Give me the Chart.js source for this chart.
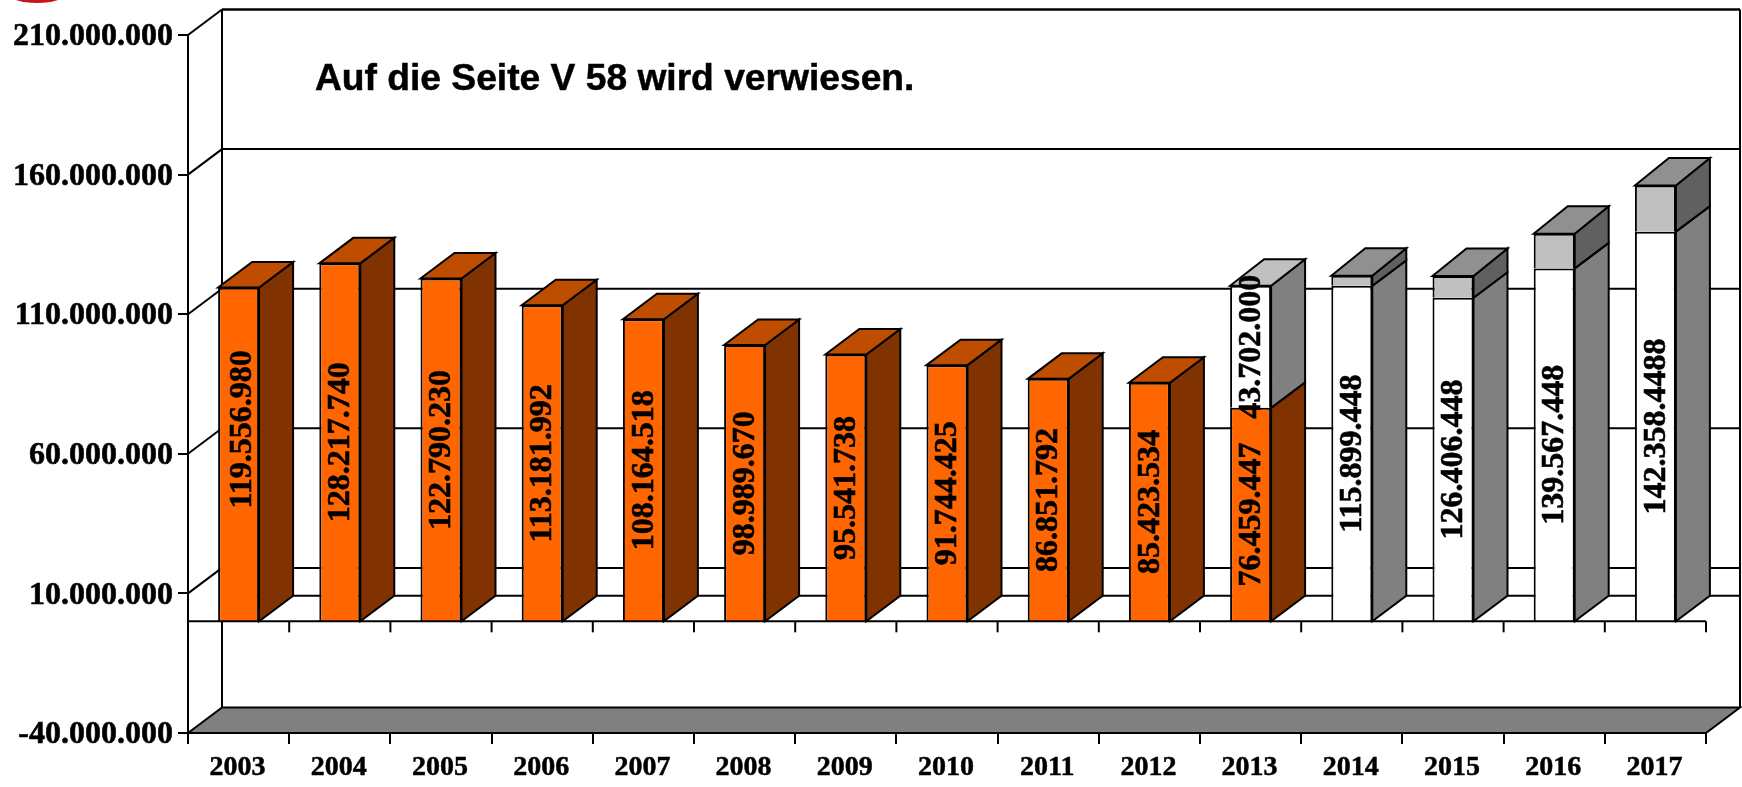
<!DOCTYPE html>
<html><head><meta charset="utf-8">
<style>html,body{margin:0;padding:0;background:#fff}canvas{display:block}</style>
<script src="https://cdn.jsdelivr.net/npm/chart.js@4"></script>
</head><body><canvas id="c" width="1742" height="787"></canvas>
<script>
const categories = ['2003','2004','2005','2006','2007','2008','2009','2010','2011','2012','2013','2014','2015','2016','2017'];
const orangeValues = [119556980,128217740,122790230,113181992,108164518,98989670,95541738,91744425,86851792,85423534,76459447,null,null,null,null];
const whiteValues = [null,null,null,null,null,null,null,null,null,null,43702000,120161447,115899448,126406448,139567448];
const grayValues = [null,null,null,null,null,null,null,null,null,null,null,3600000,7800000,12400000,16500000];
const orangeLabels = ['119.556.980','128.217.740','122.790.230','113.181.992','108.164.518','98.989.670','95.541.738','91.744.425','86.851.792','85.423.534','76.459.447','','','',''];
const whiteLabels = ['','','','','','','','','','','43.702.000','115.899.448','126.406.448','139.567.448','142.358.4488'];
const yTickValues = [-40000000,10000000,60000000,110000000,160000000,210000000];
const noteText = 'Auf die Seite V 58 wird verwiesen.';

const DX = 34, DY = 25.5;
const SERIF = '"Liberation Serif","Times New Roman",serif';
const faces = [
  {front:'#FF6600', top:'#BF4D00', side:'#803300', lift:0},
  {front:'#FFFFFF', top:'#C0C0C0', side:'#808080', lift:1},
  {front:'#C0C0C0', top:'#909090', side:'#606060', lift:2}
];
const labelSets = [orangeLabels, whiteLabels, null];
const labelNudge = {'0:0': {x:3, y:-25}};

function line(ctx,x1,y1,x2,y2){ctx.beginPath();ctx.moveTo(x1,y1);ctx.lineTo(x2,y2);ctx.stroke();}
function poly(ctx,pts,fill){ctx.beginPath();pts.forEach((p,i)=>i?ctx.lineTo(p[0],p[1]):ctx.moveTo(p[0],p[1]));ctx.closePath();ctx.fillStyle=fill;ctx.fill();ctx.stroke();}

const box3d = {
  id:'box3d',
  beforeDatasetsDraw(chart){
    const {ctx,chartArea:a,scales:{x,y}} = chart;
    ctx.save();
    ctx.fillStyle='#C8141E';ctx.beginPath();ctx.ellipse(37,-7,30,10,0,0,Math.PI*2);ctx.fill();
    ctx.strokeStyle='#000';ctx.lineWidth=2;
    const L=a.left,R=a.right,T=a.top,B=a.bottom;
    line(ctx,L+DX,T-DY,R+DX,T-DY);
    line(ctx,L+DX,T-DY,L+DX,B-DY);
    line(ctx,R+DX,T-DY,R+DX,B-DY);
    y.ticks.forEach(t=>{
      const py=y.getPixelForValue(t.value);
      if(t.value>y.min){ line(ctx,L,py,L+DX,py-DY); line(ctx,L+DX,py-DY,R+DX,py-DY); }
    });
    const z=y.getPixelForValue(0);
    line(ctx,L+DX,z-DY,R+DX,z-DY);
    poly(ctx,[[L,B],[L+DX,B-DY],[R+DX,B-DY],[R,B]],'#808080');
    ctx.restore();
  },
  afterDatasetsDraw(chart){
    const {ctx,chartArea:a,scales:{x,y}} = chart;
    ctx.save();
    ctx.strokeStyle='#000';ctx.lineWidth=2;ctx.lineJoin='miter';
    categories.forEach((c,i)=>{
      let topIdx=-1;
      chart.data.datasets.forEach((ds,d)=>{ if(ds.data[i]!=null) topIdx=d; });
      chart.data.datasets.forEach((ds,d)=>{
        if(ds.data[i]==null) return;
        const el=chart.getDatasetMeta(d).data[i];
        const r=el.x+el.width/2, l=el.x-el.width/2, t=el.y, b=el.base;
        const up=DY+(d===topIdx?faces[d].lift:0);
        poly(ctx,[[r,t],[r+DX,t-up],[r+DX,b-DY],[r,b]],faces[d].side);
        if(d===topIdx) poly(ctx,[[l,t],[l+DX,t-up],[r+DX,t-up],[r,t]],faces[d].top);
      });
    });
    const z=y.getPixelForValue(0);
    line(ctx,a.left,z,a.right,z);
    x.ticks.forEach((t,i)=>{
      const w=(a.right-a.left)/categories.length;
      line(ctx,a.left+w*(i+1),z,a.left+w*(i+1),z+11);
    });
    ctx.fillStyle='#000';ctx.textAlign='center';ctx.textBaseline='middle';
    ctx.font='bold 32px '+SERIF;ctx.lineWidth=0.6;
    labelSets.forEach((set,d)=>{
      if(!set) return;
      set.forEach((txt,i)=>{
        if(!txt) return;
        const el=chart.getDatasetMeta(d).data[i];
        const n=labelNudge[d+':'+i]||{x:0,y:0};
        const cy=(el.y+el.base)/2+n.y;
        ctx.save();ctx.translate(el.x+1+n.x,cy);ctx.rotate(-Math.PI/2);ctx.fillText(txt,0,0);ctx.strokeText(txt,0,0);ctx.restore();
      });
    });
    ctx.font='bold 37.2px "Liberation Sans",Arial,sans-serif';
    ctx.textAlign='left';ctx.textBaseline='alphabetic';ctx.lineWidth=0.5;
    ctx.fillText(noteText,315,90);ctx.strokeText(noteText,315,90);
    ctx.restore();
  }
};

new Chart(document.getElementById('c'),{
  type:'bar',
  data:{labels:categories,datasets:[orangeValues,whiteValues,grayValues].map((v,d)=>({
    data:v,backgroundColor:faces[d].front,borderColor:'#000',borderWidth:2,
    barPercentage:0.405,categoryPercentage:1
  }))},
  options:{
    responsive:false,animation:false,
    layout:{autoPadding:false,padding:{top:35,right:36,left:0,bottom:0}},
    plugins:{legend:{display:false},tooltip:{enabled:false},title:{display:false}},
    scales:{
      x:{stacked:true,afterFit(s){s.height=54;},
        grid:{display:true,drawOnChartArea:false,drawTicks:true,tickLength:11,offset:true,color:'#000',lineWidth:2},
        border:{display:true,color:'#000',width:2},
        ticks:{color:'#000',font:{family:SERIF,size:28,weight:'bold'},padding:7,labelOffset:-1,maxRotation:0,autoSkip:false,textStrokeColor:'#000',textStrokeWidth:0.5}},
      y:{stacked:true,min:-40000000,max:210000000,afterFit(s){s.width=188;},
        afterBuildTicks(s){s.ticks=yTickValues.map(v=>({value:v}));},
        grid:{display:true,drawOnChartArea:false,drawTicks:true,tickLength:10,color:'#000',lineWidth:2},
        border:{display:true,color:'#000',width:2},
        ticks:{color:'#000',font:{family:SERIF,size:32,weight:'bold'},padding:5,labelOffset:2,textStrokeColor:'#000',textStrokeWidth:0.6,
          callback:v=>String(v).replace(/\B(?=(\d{3})+(?!\d))/g,'.')}}
    }
  },
  plugins:[box3d]
});
</script></body></html>
